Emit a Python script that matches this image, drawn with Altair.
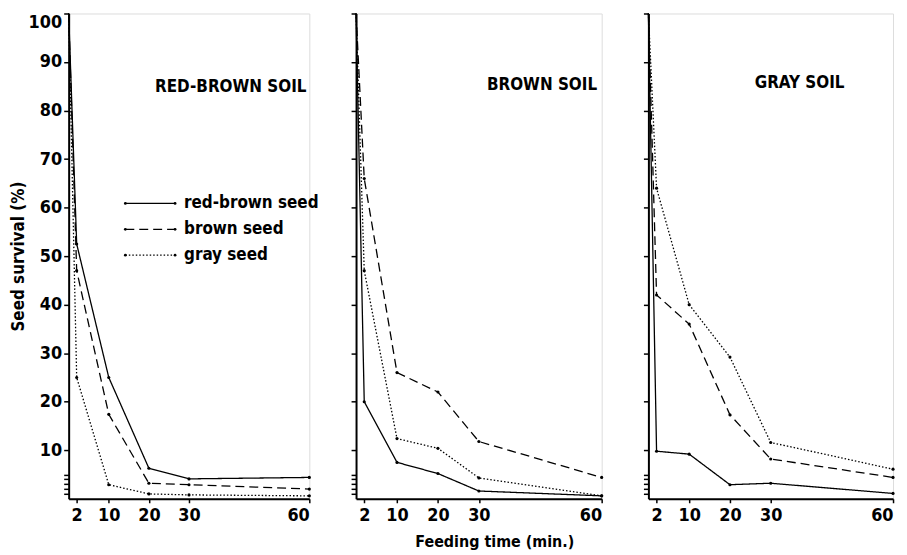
import altair as alt
import pandas as pd

# ---- data ----
times = [0, 2, 10, 20, 30, 60]
soils = ["RED-BROWN SOIL", "BROWN SOIL", "GRAY SOIL"]
seeds = ["red-brown seed", "brown seed", "gray seed"]

redbrown_soil_redbrown_seed = [100, 52.5, 25.0, 6.3, 4.1, 4.4]
redbrown_soil_brown_seed = [100, 47.0, 17.4, 3.2, 2.9, 2.0]
redbrown_soil_gray_seed = [100, 25.0, 2.9, 1.0, 0.8, 0.6]

brown_soil_redbrown_seed = [100, 20.0, 7.5, 5.2, 1.6, 0.6]
brown_soil_brown_seed = [100, 66.0, 26.0, 22.0, 11.8, 4.4]
brown_soil_gray_seed = [100, 47.0, 12.4, 10.4, 4.3, 0.6]

gray_soil_redbrown_seed = [100, 9.8, 9.2, 2.9, 3.2, 1.1]
gray_soil_brown_seed = [100, 42.0, 36.0, 17.3, 8.2, 4.4]
gray_soil_gray_seed = [100, 64.0, 40.0, 29.2, 11.6, 6.1]

x_ticks = [2, 10, 20, 30, 60]
y_ticks = [1, 2, 3, 4, 5, 10, 20, 30, 40, 50, 60, 70, 80, 90, 100]

series = {
    "RED-BROWN SOIL": [redbrown_soil_redbrown_seed, redbrown_soil_brown_seed, redbrown_soil_gray_seed],
    "BROWN SOIL": [brown_soil_redbrown_seed, brown_soil_brown_seed, brown_soil_gray_seed],
    "GRAY SOIL": [gray_soil_redbrown_seed, gray_soil_brown_seed, gray_soil_gray_seed],
}

rows = []
for soil in soils:
    for seed, vals in zip(seeds, series[soil]):
        for t, v in zip(times, vals):
            rows.append({"soil": soil, "seed": seed, "time": t, "survival": v})
df = pd.DataFrame(rows)

FONT = "Liberation Sans Narrow, DejaVu Sans Condensed, Arial Narrow, sans-serif"
dash_scale = alt.Scale(domain=seeds, range=[[1, 0], [9, 5], [1.5, 2]])

PLOT_H = 488
widths = [242, 247, 246]
title_pos = [(163, 74), (187, 72), (152, 70)]


def make_panel(i):
    soil = soils[i]
    d = df[df["soil"] == soil]
    first = i == 0
    y_axis_kwargs = dict(
        values=y_ticks,
        labelOverlap=False,
        tickCount=len(y_ticks),
        domainColor="black", domainWidth=2,
        tickColor="black", tickWidth=1.5, tickSize=5,
        grid=False,
    )
    if first:
        y_axis = alt.Axis(
            title="Seed survival (%)",
            labels=True,
            labelExpr="datum.value >= 10 ? datum.label : ''",
            labelFont=FONT, labelFontSize=18, labelFontWeight="bold", labelColor="black",
            labelPadding=2,
            labelBaseline={"condition": {"test": "datum.value == 100", "value": "top"}, "value": "middle"},
            titleFont=FONT, titleFontSize=17, titleFontWeight="bold", titleColor="black",
            titlePadding=1,
            **y_axis_kwargs,
        )
    else:
        y_axis = alt.Axis(title=None, labels=False, **y_axis_kwargs)

    x_axis_kwargs = dict(
        values=x_ticks,
        labelFlush=True,
        labelOverlap=False,
        domainColor="black", domainWidth=2,
        tickColor="black", tickWidth=1.5, tickSize=4,
        labelFont=FONT, labelFontSize=18, labelFontWeight="bold", labelColor="black",
        labelPadding=4,
        grid=False,
    )
    if i == 1:
        x_axis = alt.Axis(
            title="Feeding time (min.)",
            titleFont=FONT, titleFontSize=16, titleFontWeight="bold", titleColor="black",
            titlePadding=9, titleX=139,
            **x_axis_kwargs,
        )
    else:
        x_axis = alt.Axis(title=None, **x_axis_kwargs)

    xs = alt.X("time:Q", scale=alt.Scale(domain=[0, 60], nice=False, zero=True), axis=x_axis)
    ys = alt.Y("survival:Q", scale=alt.Scale(domain=[0, 100], nice=False), axis=y_axis)

    base = alt.Chart(d)
    lines = base.mark_line(color="black", strokeWidth=1.3).encode(
        x=xs, y=ys,
        strokeDash=alt.StrokeDash("seed:N", scale=dash_scale, legend=None),
        detail="seed:N",
    )
    pts = base.transform_filter("datum.time > 0").mark_circle(
        color="black", size=10, opacity=1
    ).encode(x=xs, y=ys)

    tx, ty = title_pos[i]
    title = alt.Chart(pd.DataFrame({"soil": [soil]})).mark_text(
        font=FONT, fontSize=17, fontWeight="bold", color="black", align="center", baseline="middle"
    ).encode(text="soil:N", x=alt.value(tx), y=alt.value(ty))

    layers = [lines, pts, title]

    if first:
        leg = pd.DataFrame({"seed": seeds, "k": list(range(len(seeds)))})
        for k, s in enumerate(seeds):
            ld = leg[leg["k"] == k]
            yy = 191 + k * 26
            layers.append(
                alt.Chart(ld).mark_rule(color="black", strokeWidth=1.3).encode(
                    x=alt.value(57), x2=alt.value(107), y=alt.value(yy),
                    strokeDash=alt.StrokeDash("seed:N", scale=dash_scale, legend=None),
                )
            )
            layers.append(
                alt.Chart(ld).mark_circle(color="black", size=8, opacity=1).encode(
                    x=alt.value(57), y=alt.value(yy)
                )
            )
            layers.append(
                alt.Chart(ld).mark_circle(color="black", size=8, opacity=1).encode(
                    x=alt.value(107), y=alt.value(yy)
                )
            )
            layers.append(
                alt.Chart(ld).mark_text(
                    font=FONT, fontSize=17, fontWeight="bold", color="black",
                    align="left", baseline="middle",
                ).encode(text="seed:N", x=alt.value(116), y=alt.value(yy))
            )

    return alt.layer(*layers).properties(width=widths[i], height=PLOT_H)


p1, p2, p3 = make_panel(0), make_panel(1), make_panel(2)

chart = alt.hconcat(p1, p2, p3, spacing=47, bounds="flush").properties(
    padding={"left": 0, "top": 0, "right": 2, "bottom": 0}
).configure_view(stroke=None).configure(background="white")

chart.save("out.html", embed_options={"renderer": "svg", "actions": False})
